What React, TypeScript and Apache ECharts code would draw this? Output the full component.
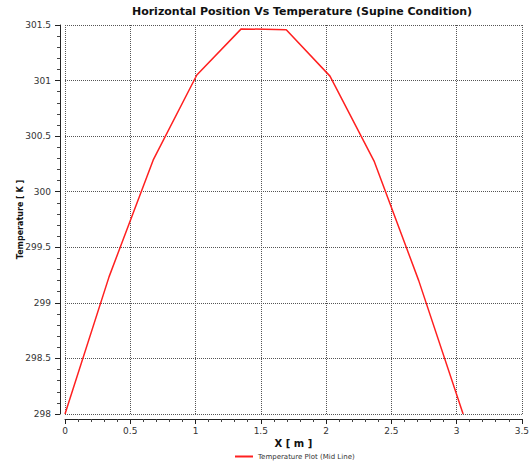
import React, { useEffect, useRef } from "react";
import * as echarts from "echarts";

const positions = [0, 0.338, 0.676, 1.01, 1.35, 1.695, 2.03, 2.37, 2.71, 3.05];
const temperatures = [298, 299.236, 300.286, 301.05, 301.465, 301.458, 301.04, 300.27, 299.2, 298];
const seriesName = "Temperature Plot (Mid Line)";
const titleText = "Horizontal Position Vs Temperature (Supine Condition)";
const xName = "X [ m ]";
const yName = "Temperature [ K ]";

const FONT = "Verdana, 'DejaVu Sans', sans-serif";

export default function App() {
  const ref = useRef<HTMLDivElement>(null);
  useEffect(() => {
    if (!ref.current) return;
    const chart = echarts.init(ref.current, null, { renderer: "svg" });
    const data = positions.map((x, i) => [x, temperatures[i]]);
    chart.setOption({
      animation: false,
      backgroundColor: "#ffffff",
      title: {
        text: titleText,
        left: 297,
        textAlign: "center",
        top: 1,
        textStyle: { fontFamily: FONT, fontSize: 11, fontWeight: "bold", color: "#111" },
      },
      legend: {
        top: 448,
        left: 230,
        icon: "rect",
        itemWidth: 18,
        itemHeight: 2,
        itemGap: 6,
        textStyle: { fontFamily: FONT, fontSize: 7, color: "#333" },
        data: [seriesName],
      },
      grid: { left: 65, right: 9, top: 25, bottom: 50, containLabel: false },
      xAxis: {
        type: "value",
        min: 0,
        max: 3.5,
        interval: 0.5,
        offset: 5,
        name: xName,
        nameLocation: "middle",
        nameGap: 19,
        nameMoveOverlap: false,
        nameTextStyle: { fontFamily: FONT, fontSize: 10, fontWeight: "bold", color: "#111" },
        axisLine: { show: true, onZero: false, lineStyle: { color: "#222", width: 1 } },
        axisTick: { show: true, length: 5, lineStyle: { color: "#222" } },
        minorTick: { show: true, splitNumber: 5, length: 3, lineStyle: { color: "#444" } },
        axisLabel: { margin: 7, fontFamily: FONT, fontSize: 9, color: "#333" },
        splitLine: { show: true, lineStyle: { type: "dotted", color: "#555", width: 1 } },
      },
      yAxis: {
        type: "value",
        min: 298,
        max: 301.5,
        interval: 0.5,
        offset: 5,
        name: yName,
        nameLocation: "middle",
        nameGap: 36,
        nameMoveOverlap: false,
        nameTextStyle: { fontFamily: FONT, fontSize: 8, fontWeight: "bold", color: "#111" },
        axisLine: { show: true, onZero: false, lineStyle: { color: "#222", width: 1 } },
        axisTick: { show: true, length: 5, lineStyle: { color: "#222" } },
        minorTick: { show: true, splitNumber: 5, length: 3, lineStyle: { color: "#444" } },
        axisLabel: { margin: 9, fontFamily: FONT, fontSize: 9, color: "#333" },
        splitLine: { show: true, lineStyle: { type: "dotted", color: "#555", width: 1 } },
      },
      series: [
        {
          name: seriesName,
          type: "line",
          data,
          showSymbol: false,
          symbol: "none",
          lineStyle: { color: "#ff2020", width: 1.5 },
          itemStyle: { color: "#ff2020" },
        },
      ],
    });
    return () => chart.dispose();
  }, []);
  return <div ref={ref} style={{ width: 532, height: 464, position: "absolute", left: 0, top: 0 }} />;
}
